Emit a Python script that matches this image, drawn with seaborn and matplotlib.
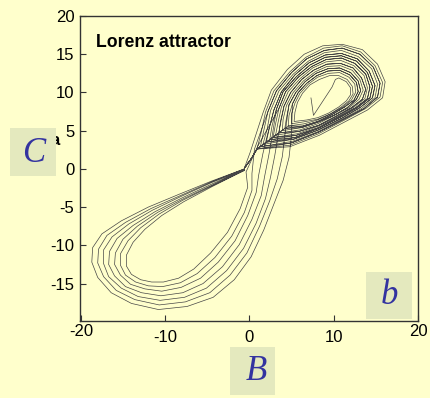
import matplotlib
matplotlib.use("Agg")
import matplotlib.pyplot as plt
from matplotlib.patches import Rectangle
from matplotlib.transforms import ScaledTranslation
import pandas as pd
import seaborn as sns

# ---- trajectory vertices (B, C), grouped by pass ----
start_transient = [(7.3, 9.3), (7.6, 7.0), (9.8, 10.7), (10.2, 11.7)]

# right-lobe windings, outermost (00) to innermost (13); each starts at the lower-left tip
ring_00 = [(0.9, 2.6), (1.4, 4.8), (1.9, 7.4), (2.9, 10.2), (4.8, 12.7), (6.7, 14.6), (8.8, 15.8), (11.0, 16.1),
           (13.2, 15.3), (14.9, 13.5), (15.8, 11.3), (15.5, 9.4), (13.8, 7.9), (11.3, 6.4), (8.2, 4.6), (4.8, 3.1)]
ring_01 = [(1.3, 2.9), (1.7, 5.0), (2.2, 7.5), (3.2, 10.2), (5.0, 12.6), (6.8, 14.4), (8.9, 15.5), (11.0, 15.8),
           (13.1, 15.0), (14.7, 13.3), (15.5, 11.2), (15.2, 9.4), (13.6, 7.9), (11.2, 6.5), (8.2, 4.8), (5.0, 3.4)]
ring_02 = [(1.6, 3.2), (2.1, 5.2), (2.5, 7.6), (3.5, 10.2), (5.2, 12.4), (7.0, 14.1), (8.9, 15.2), (10.9, 15.5),
           (12.9, 14.7), (14.5, 13.1), (15.2, 11.1), (14.9, 9.3), (13.3, 7.9), (11.0, 6.5), (8.2, 4.9), (5.1, 3.6)]
ring_03 = [(2.0, 3.5), (2.4, 5.5), (2.9, 7.7), (3.8, 10.1), (5.4, 12.3), (7.1, 13.9), (9.0, 14.9), (10.9, 15.1),
           (12.8, 14.4), (14.2, 12.8), (14.9, 10.9), (14.6, 9.3), (13.1, 8.0), (10.9, 6.6), (8.2, 5.1), (5.3, 3.9)]
ring_04 = [(2.4, 3.8), (2.7, 5.7), (3.2, 7.8), (4.0, 10.1), (5.6, 12.1), (7.2, 13.6), (9.0, 14.6), (10.9, 14.8),
           (12.7, 14.1), (14.0, 12.6), (14.6, 10.8), (14.3, 9.3), (12.8, 8.0), (10.7, 6.7), (8.2, 5.3), (5.4, 4.1)]
ring_05 = [(2.8, 4.1), (3.1, 5.9), (3.5, 7.9), (4.3, 10.1), (5.8, 12.0), (7.4, 13.4), (9.1, 14.3), (10.9, 14.5),
           (12.5, 13.8), (13.8, 12.4), (14.3, 10.7), (14.0, 9.2), (12.6, 8.0), (10.6, 6.8), (8.2, 5.4), (5.6, 4.4)]
ring_06 = [(3.1, 4.4), (3.4, 6.1), (3.8, 8.1), (4.6, 10.1), (6.0, 11.8), (7.5, 13.2), (9.1, 14.0), (10.8, 14.2),
           (12.4, 13.5), (13.6, 12.2), (14.0, 10.6), (13.7, 9.2), (12.3, 8.0), (10.4, 6.8), (8.2, 5.6), (5.7, 4.6)]
ring_07 = [(3.5, 4.7), (3.7, 6.3), (4.1, 8.2), (4.9, 10.0), (6.2, 11.7), (7.6, 12.9), (9.2, 13.7), (10.8, 13.8),
           (12.3, 13.2), (13.3, 11.9), (13.8, 10.4), (13.4, 9.1), (12.1, 8.0), (10.3, 6.9), (8.2, 5.7), (5.9, 4.9)]
ring_08 = [(3.9, 5.0), (4.0, 6.5), (4.4, 8.3), (5.2, 10.0), (6.4, 11.5), (7.8, 12.7), (9.2, 13.4), (10.8, 13.5),
           (12.2, 12.9), (13.1, 11.7), (13.5, 10.3), (13.0, 9.1), (11.8, 8.0), (10.1, 7.0), (8.1, 5.9), (6.0, 5.1)]
ring_09 = [(4.2, 5.3), (4.4, 6.7), (4.7, 8.4), (5.5, 10.0), (6.6, 11.4), (7.9, 12.5), (9.3, 13.1), (10.7, 13.2),
           (12.0, 12.6), (12.9, 11.5), (13.2, 10.2), (12.7, 9.1), (11.6, 8.0), (10.0, 7.0), (8.1, 6.1), (6.2, 5.4)]
ring_10 = [(4.6, 5.6), (4.7, 7.0), (5.1, 8.5), (5.8, 10.0), (6.8, 11.2), (8.0, 12.2), (9.3, 12.8), (10.7, 12.9),
           (11.9, 12.3), (12.7, 11.3), (12.9, 10.1), (12.4, 9.0), (11.3, 8.1), (9.8, 7.1), (8.1, 6.2), (6.3, 5.6)]
ring_11 = [(5.0, 5.9), (5.0, 7.2), (5.4, 8.6), (6.0, 9.9), (7.0, 11.1), (8.1, 12.0), (9.4, 12.5), (10.7, 12.6),
           (11.8, 12.0), (12.5, 11.1), (12.6, 10.0), (12.1, 9.0), (11.1, 8.1), (9.7, 7.2), (8.1, 6.4), (6.5, 5.9)]
ring_12 = [(5.3, 6.2), (5.4, 7.4), (5.7, 8.7), (6.3, 9.9), (7.2, 11.0), (8.3, 11.7), (9.5, 12.2), (10.6, 12.2),
           (11.6, 11.7), (12.2, 10.8), (12.3, 9.8), (11.8, 8.9), (10.9, 8.1), (9.6, 7.2), (8.1, 6.5), (6.7, 6.2)]
ring_13 = [(5.7, 6.5), (5.7, 7.6), (6.0, 8.8), (6.6, 9.9), (7.4, 10.8), (8.4, 11.5), (9.5, 11.9), (10.6, 11.9),
           (11.5, 11.4), (12.0, 10.6), (12.0, 9.7), (11.5, 8.9), (10.6, 8.1), (9.4, 7.3), (8.1, 6.7), (6.8, 6.4)]
ring_outer = [(0.9, 2.6), (1.2, 4.7), (1.6, 7.3), (2.6, 10.3), (4.5, 13.0), (6.5, 15.0), (8.7, 16.1), (11.0, 16.3),
              (13.4, 15.6), (15.2, 13.7), (16.1, 11.4), (15.8, 9.3), (14.0, 7.7), (11.4, 6.2), (8.3, 4.4), (4.8, 2.9)]

# left-lobe excursions, outermost (0) to innermost (6); each leaves from the origin
left_lap_0 = [(-0.6, 0.0), (-4.5, -1.6), (-8.3, -3.3), (-12.0, -5.0), (-15.2, -6.8), (-17.5, -8.5),
              (-18.6, -10.3), (-18.7, -12.2), (-18.0, -14.2), (-16.4, -16.2), (-14.0, -17.6),
              (-10.8, -18.4), (-7.4, -18.0), (-4.3, -16.8), (-1.8, -14.5), (0.2, -11.5),
              (1.7, -8.0), (2.9, -4.6), (4.0, -1.5)]
left_lap_1 = [(-0.6, 0.0), (-4.5, -1.7), (-8.2, -3.5), (-11.7, -5.2), (-14.7, -7.0), (-16.9, -8.7),
              (-17.9, -10.5), (-18.0, -12.3), (-17.3, -14.1), (-15.8, -15.9), (-13.6, -17.1),
              (-10.7, -17.8), (-7.6, -17.4), (-4.7, -16.2), (-2.3, -13.9), (-0.3, -11.0),
              (1.2, -7.5), (2.4, -4.2), (3.3, -1.3)]
left_lap_2 = [(-0.6, -0.1), (-4.5, -1.8), (-8.1, -3.6), (-11.5, -5.4), (-14.3, -7.2), (-16.3, -8.9),
              (-17.3, -10.6), (-17.3, -12.4), (-16.7, -14.1), (-15.2, -15.6), (-13.2, -16.7),
              (-10.6, -17.2), (-7.7, -16.8), (-5.1, -15.6), (-2.7, -13.3), (-0.7, -10.4),
              (0.8, -7.1), (1.9, -3.9), (2.5, -1.1)]
left_lap_3 = [(-0.6, -0.1), (-4.5, -2.0), (-8.0, -3.8), (-11.2, -5.6), (-13.8, -7.4), (-15.7, -9.1),
              (-16.6, -10.8), (-16.7, -12.5), (-16.0, -14.0), (-14.7, -15.4), (-12.8, -16.2),
              (-10.5, -16.6), (-7.9, -16.2), (-5.5, -15.0), (-3.2, -12.8), (-1.2, -9.9),
              (0.3, -6.6), (1.4, -3.5), (1.8, -1.0)]
left_lap_4 = [(-0.6, -0.1), (-4.4, -2.1), (-8.0, -4.0), (-10.9, -5.7), (-13.3, -7.5), (-15.0, -9.2),
              (-15.9, -11.0), (-16.0, -12.5), (-15.3, -13.9), (-14.1, -15.1), (-12.4, -15.7),
              (-10.4, -16.0), (-8.1, -15.5), (-5.8, -14.3), (-3.7, -12.2), (-1.7, -9.4),
              (-0.2, -6.1), (0.8, -3.1), (1.1, -0.8)]
left_lap_5 = [(-0.6, -0.2), (-4.4, -2.2), (-7.9, -4.1), (-10.7, -5.9), (-12.9, -7.7), (-14.4, -9.4),
              (-15.3, -11.1), (-15.3, -12.6), (-14.7, -13.9), (-13.5, -14.8), (-12.0, -15.3),
              (-10.3, -15.4), (-8.2, -14.9), (-6.2, -13.7), (-4.1, -11.6), (-2.1, -8.8),
              (-0.6, -5.7), (0.3, -2.8), (0.3, -0.6)]
left_lap_6 = [(-0.6, -0.2), (-4.4, -2.3), (-7.8, -4.3), (-10.4, -6.1), (-12.4, -7.9), (-13.8, -9.6),
              (-14.6, -11.3), (-14.6, -12.7), (-14.0, -13.8), (-12.9, -14.5), (-11.6, -14.8),
              (-10.2, -14.8), (-8.4, -14.3), (-6.6, -13.1), (-4.6, -11.0), (-2.6, -8.3),
              (-1.1, -5.2), (-0.2, -2.4), (-0.4, -0.4)]

# climbs from the left lobe into the right lobe
rise_0 = [(4.7, 1.5), (5.0, 4.5)]
rise_1 = [(3.9, 1.6), (4.2, 4.4)]
rise_2 = [(3.0, 1.7), (3.4, 4.3)]
rise_3 = [(2.3, 1.8), (2.7, 4.3)]
rise_4 = [(1.6, 2.0), (2.1, 4.3)]

# ejection from the right lobe back to the origin, and lifts from the origin
eject = [(0.9, 2.6), (0.2, 1.3), (-0.6, 0.1)]
lift_0 = [(0.1, 2.2)]
lift_1 = [(0.6, 2.6)]
lift_2 = [(1.0, 3.0)]

x_ticks = [-20, -10, 0, 10, 20]
y_ticks = [-15, -10, -5, 0, 5, 10, 15, 20]

title_text = "Lorenz attractor"


def around(ring):
    """One winding entered from the left side, ending back at the tip."""
    return ring[2:] + ring[:1]


spiral = ring_13[7:]
for r in [ring_12, ring_11, ring_10, ring_09, ring_08, ring_07, ring_06,
          ring_05, ring_04, ring_03, ring_02, ring_01, ring_00]:
    spiral = spiral + r

path = (start_transient + spiral + eject
        + left_lap_0 + rise_0 + around(ring_10) + eject
        + left_lap_1 + rise_1 + around(ring_09) + eject
        + left_lap_2 + rise_2 + around(ring_07) + eject
        + lift_0 + around(ring_outer) + eject
        + left_lap_3 + rise_3 + around(ring_04) + eject
        + left_lap_4 + rise_4 + around(ring_03) + eject
        + left_lap_5 + lift_1 + around(ring_01) + eject
        + left_lap_6 + lift_2 + around(ring_05) + eject)

df = pd.DataFrame(path, columns=["B", "C"])

# ---- styling ----
BG = "#FFFFCC"
BOX = "#E4E9BE"
INK = "#3333A0"

sns.set_style("ticks")
plt.rcParams["font.family"] = ["Liberation Sans", "DejaVu Sans"]

fig = plt.figure(figsize=(4.30, 3.98), dpi=100, facecolor=BG)
ax = fig.add_axes([80 / 430, 1 - 321 / 398, 338 / 430, 305 / 398])
ax.set_facecolor(BG)

sns.lineplot(data=df, x="B", y="C", sort=False, estimator=None,
             color="#454545", linewidth=0.5, ax=ax)

ax.set_xlim(-20.1, 19.8)
ax.set_ylim(-19.9, 20)
ax.set_xticks(x_ticks)
ax.set_yticks(y_ticks)
ax.set_xticklabels([str(v) for v in x_ticks])
ax.set_yticklabels([str(v) for v in y_ticks])
ax.set_xlabel("")
ax.set_ylabel("")

for s in ax.spines.values():
    s.set_visible(True)
    s.set_color("#333333")
    s.set_linewidth(1.0)

ax.tick_params(axis="both", direction="in", length=4, width=0.8, color="#333333",
               labelsize=12, labelcolor="black")
ax.tick_params(axis="x", pad=6.5)
ax.tick_params(axis="y", pad=4)

# the end labels of the B axis sit a little higher
lift = ScaledTranslation(0, 4 / 72, fig.dpi_scale_trans)
xl = ax.get_xticklabels()
for lbl in (xl[0], xl[-1]):
    lbl.set_transform(lbl.get_transform() + lift)

ax.text(0.047, 0.912, title_text, transform=ax.transAxes, fontsize=12.7,
        fontweight="bold", ha="left", va="center", color="black")

# axis badges
fig.text(55 / 430, 1 - 141 / 398, "a", fontsize=12, fontweight="bold",
         ha="center", va="center", color="black", zorder=1)


def badge(x0, y0, w, h, label, cx, cy):
    fig.add_artist(Rectangle((x0 / 430, 1 - (y0 + h) / 398), w / 430, h / 398,
                             transform=fig.transFigure, facecolor=BOX,
                             edgecolor="none", zorder=2))
    fig.text(cx / 430, 1 - cy / 398, label, fontsize=25, style="italic",
             family=["Liberation Serif", "DejaVu Serif"], color=INK,
             ha="center", va="center", zorder=3)


badge(10, 128, 46, 48, "C", 34, 153)
badge(230, 347, 45, 48, "B", 256, 371)
badge(366, 272, 46, 47, "b", 389, 296)

fig.savefig("out.png", dpi=100, facecolor=BG)
